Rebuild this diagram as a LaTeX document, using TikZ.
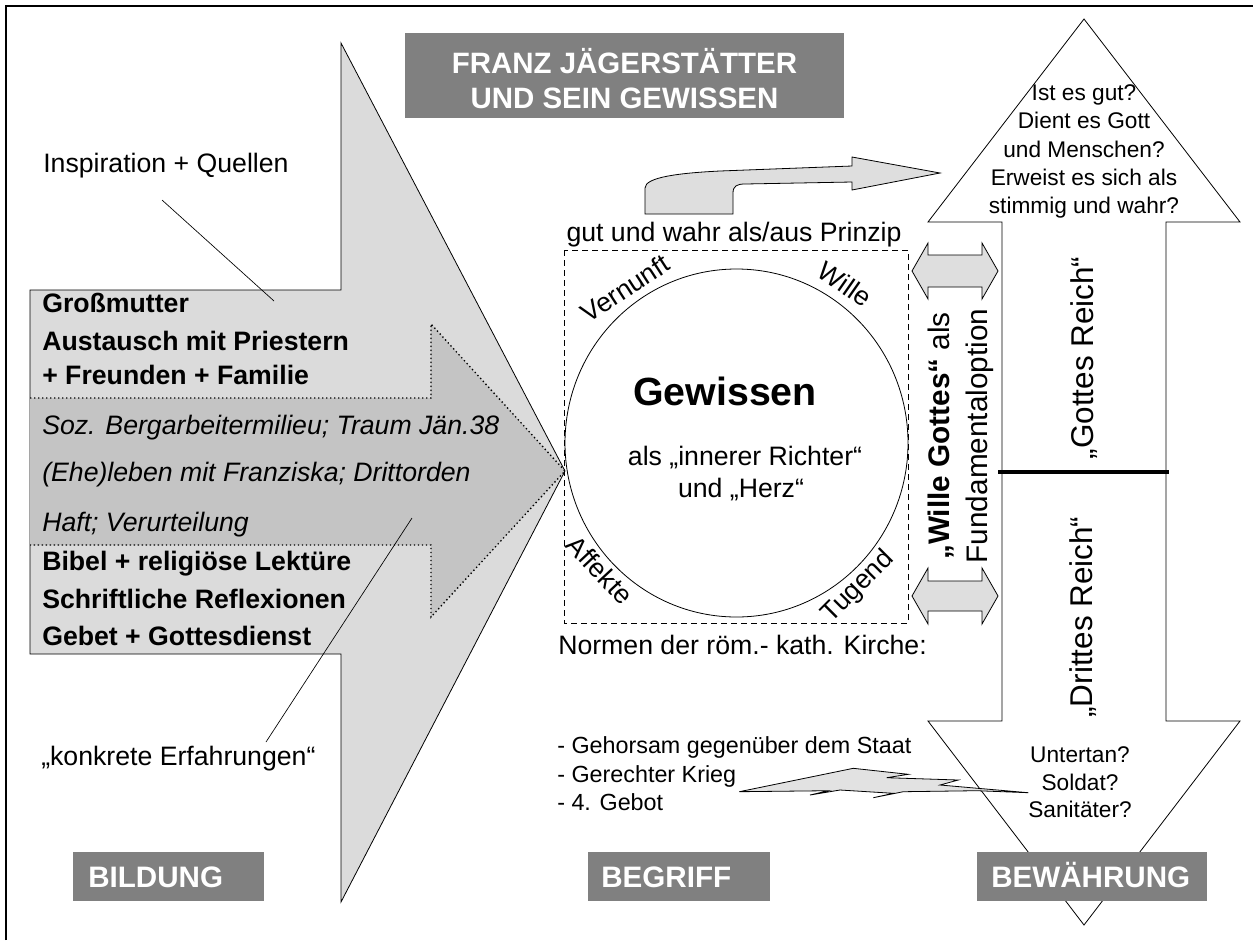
\documentclass[tikz,border=0pt]{standalone}
\usepackage{fontspec}
\setmainfont{Liberation Sans}
\definecolor{bigfill}{gray}{0.86}
\definecolor{innerfill}{gray}{0.77}
\definecolor{lightfill}{gray}{0.87}
\definecolor{boxgray}{gray}{0.5}
\tikzset{
  outl/.style={draw=black, line width=0.6pt},
  lr/.style={inner sep=0pt, anchor=base west, font=\fontsize{20}{24}\selectfont},
  lb/.style={inner sep=0pt, anchor=base west, font=\bfseries\fontsize{20}{24}\selectfont},
  li/.style={inner sep=0pt, anchor=base west, font=\itshape\fontsize{20}{24}\selectfont},
  ctr/.style={inner sep=0pt, anchor=base, font=\fontsize{20}{24}\selectfont},
  qtxt/.style={inner sep=0pt, anchor=base, font=\fontsize{17}{20}\selectfont},
  ltxt/.style={inner sep=0pt, anchor=base west, font=\fontsize{17.5}{21}\selectfont},
  rim/.style={inner sep=0pt, font=\fontsize{20}{24}\selectfont},
  boxlabel/.style={inner sep=0pt, anchor=base west, text=white, font=\bfseries\fontsize{22.2}{26}\selectfont},
  ttl/.style={inner sep=0pt, anchor=base, text=white, font=\bfseries\fontsize{22.1}{26}\selectfont},
  reich/.style={inner sep=0pt, anchor=base, rotate=90, font=\fontsize{23.6}{28}\selectfont},
  leader/.style={draw=black, line width=0.5pt},
  dblarrow/.style={outl, fill=lightfill}
}
\begin{document}
\begin{tikzpicture}[x=0.75pt,y=-0.75pt]
\useasboundingbox (0,0) rectangle (1253,940);
\fill[white] (0,0) rectangle (1253,940);
% frame
\draw[line width=1.5pt] (6,940) -- (6,6) -- (1253,6);

% big arrow (BILDUNG)
\path[outl, fill=bigfill] (30,290) -- (341,290) -- (341,43) -- (565,471) -- (341,902) -- (341,654) -- (30,654) -- cycle;
% inner dotted arrow
\fill[innerfill] (30,398) -- (431,398) -- (431,324) -- (565,471) -- (431,617) -- (431,545) -- (30,545) -- cycle;
\draw[dotted, line width=1pt] (30,398) -- (431,398) -- (431,324) -- (565,471) -- (431,617) -- (431,545) -- (30,545);

% leader lines
\coordinate (insA) at (162,200);
\coordinate (insB) at (274,301);
\coordinate (konA) at (412,518);
\coordinate (konB) at (266,742);
\draw[leader] (insA) -- (insB);
\draw[leader] (konA) -- (konB);

% left texts
\node[lr] (insp) at (43,172) {Inspiration + Quellen};
\node[lb] (l1) at (42,312) {Großmutter};
\node[lb] (l2) at (42,350) {Austausch mit Priestern};
\node[lb] (l3) at (42,384) {+ Freunden + Familie};
\node[li] (l4) at (42,434) {Soz. Bergarbeitermilieu; Traum Jän.38};
\node[li] (l5) at (42,481) {(Ehe)leben mit Franziska; Drittorden};
\node[li] (l6) at (42,531) {Haft; Verurteilung};
\node[lb] (l7) at (42,570) {Bibel + religiöse Lektüre};
\node[lb] (l8) at (42,608) {Schriftliche Reflexionen};
\node[lb] (l9) at (42,645) {Gebet + Gottesdienst};
\node[lr] (konk) at (41,765) {„konkrete Erfahrungen“};

% title
\fill[boxgray] (405,33) rectangle (844,118);
\node[ttl] (t1) at (624.5,73) {FRANZ JÄGERSTÄTTER};
\node[ttl] (t2) at (624.5,108) {UND SEIN GEWISSEN};

% Begriff: dashed square and circle
\draw[dash pattern=on 4.5pt off 3pt, line width=0.6pt] (564,250) rectangle (908,623);
\draw[line width=0.6pt] (736.5,443) ellipse [x radius=171.5, y radius=174];
\node[ctr] (prinzip) at (734,241) {gut und wahr als/aus Prinzip};
\node[lr] (normen) at (558,654) {Normen der röm.- kath. Kirche:};
\node[inner sep=0pt, anchor=base, font=\bfseries\fontsize{29.5}{34}\selectfont] (gew) at (725,405) {Gewissen};
\node[ctr] (richter) at (745,465) {als „innerer Richter“};
\node[ctr] (herz) at (741,497) {und „Herz“};
\node[rim, rotate=33] (vern) at (625,288) {Vernunft};
\node[rim, rotate=-35] (wil) at (845,284) {Wille};
\node[rim, rotate=-47] (aff) at (600,570) {Affekte};
\node[rim, rotate=45] (tug) at (858,587) {Tugend};

% curved arrow
\path[outl, fill=lightfill] (645,214) -- (645,188) .. controls (645,177) and (680,173) .. (720,171) -- (852,166) -- (852,157) -- (940,173) -- (852,190) -- (852,182) -- (745,184) .. controls (737,184) and (733,186) .. (733,193) -- (733,214) -- cycle;

% vertical double arrow (BEWAEHRUNG)
\path[outl, fill=white] (1002,222) -- (928,222) -- (1084,19) -- (1240,222) -- (1166,222) -- (1166,721) -- (1240,721) -- (1084,925) -- (928,721) -- (1002,721) -- cycle;
\draw[line width=3pt] (998,472) -- (1169,472);

% small double arrows
\path[dblarrow] (912,271) -- (928,243) -- (928,255) -- (982,255) -- (982,243) -- (998,271) -- (982,299) -- (982,287) -- (928,287) -- (928,299) -- cycle;
\path[dblarrow] (912,596) -- (928,568) -- (928,581) -- (982,581) -- (982,568) -- (998,596) -- (982,624) -- (982,611) -- (928,611) -- (928,624) -- cycle;

% rotated texts
\node[inner sep=0pt, rotate=90, align=center, font=\fontsize{22.3}{28.5}\selectfont] (wg) at (961,436) {\textbf{„Wille Gottes“} als\\Fundamentaloption};
\node[reich] (gr) at (1093,358) {„Gottes Reich“};
\node[reich] (dr) at (1092,617) {„Drittes Reich“};

% questions
\node[qtxt] (q1) at (1084,100) {Ist es gut?};
\node[qtxt] (q2) at (1084,128) {Dient es Gott};
\node[qtxt] (q3) at (1084,157) {und Menschen?};
\node[qtxt] (q4) at (1084,185) {Erweist es sich als};
\node[qtxt] (q5) at (1084,213) {stimmig und wahr?};
\node[qtxt] (u1) at (1080,762) {Untertan?};
\node[qtxt] (u2) at (1080,790) {Soldat?};
\node[qtxt] (u3) at (1080,817) {Sanitäter?};

% norms list
\node[ltxt] (n1) at (557,753) {- Gehorsam gegenüber dem Staat};
\node[ltxt] (n2) at (557,782) {- Gerechter Krieg};
\node[ltxt] (n3) at (557,810) {- 4. Gebot};

% lightning bolt
\path[outl, fill=lightfill, fill opacity=0.85] (739.3,791.7) -- (853.3,768.3) -- (908.3,774.3) -- (886.7,777.7) -- (958.3,780) -- (940,785) -- (1028.3,792.7) -- (976.7,790.7) -- (903.3,791.7) -- (873.3,797.7) -- (893.3,793.3) -- (840,790) -- (810,795) -- (828.3,790.7) -- cycle;

% bottom labels
\fill[boxgray] (73,852) rectangle (264,901);
\node[boxlabel] (bild) at (88,887) {BILDUNG};
\fill[boxgray] (588,852) rectangle (770,901);
\node[boxlabel] (begr) at (601,887) {BEGRIFF};
\fill[boxgray] (977,852) rectangle (1207,901);
\node[boxlabel] (bew) at (991,887) {BEWÄHRUNG};
\end{tikzpicture}
\end{document}
